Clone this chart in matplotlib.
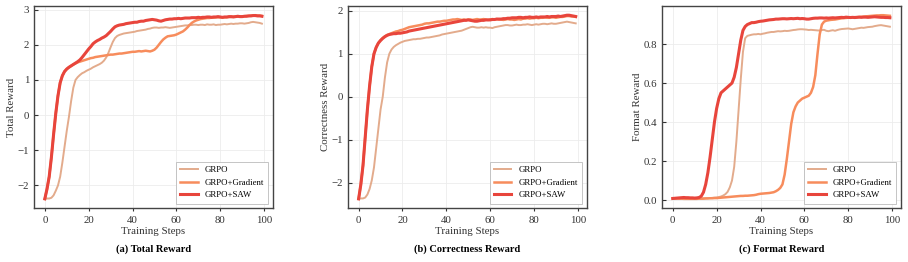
import numpy as np
import matplotlib
matplotlib.use("Agg")
import matplotlib.pyplot as plt

plt.rcParams['font.family'] = ['Liberation Serif', 'DejaVu Serif']

steps = np.arange(100)
labels = ["GRPO", "GRPO+Gradient", "GRPO+SAW"]

# (a) total reward
total_grpo = [
    -2.38, -2.37, -2.37, -2.35, -2.28, -2.15, -2.00, -1.75, -1.35, -0.90,
    -0.45, -0.05, 0.40, 0.78, 1.00, 1.08, 1.14, 1.19, 1.22, 1.26,
    1.29, 1.32, 1.36, 1.39, 1.42, 1.45, 1.49, 1.55, 1.64, 1.77,
    1.93, 2.08, 2.19, 2.25, 2.28, 2.30, 2.32, 2.33, 2.34, 2.35,
    2.36, 2.37, 2.39, 2.40, 2.41, 2.42, 2.43, 2.45, 2.46, 2.48,
    2.49, 2.49, 2.48, 2.49, 2.49, 2.50, 2.49, 2.48, 2.49, 2.50,
    2.51, 2.52, 2.53, 2.54, 2.55, 2.55, 2.56, 2.56, 2.57, 2.57,
    2.56, 2.57, 2.57, 2.56, 2.58, 2.57, 2.57, 2.58, 2.56, 2.57,
    2.57, 2.58, 2.59, 2.58, 2.59, 2.60, 2.59, 2.60, 2.60, 2.61,
    2.61, 2.60, 2.61, 2.62, 2.64, 2.65, 2.64, 2.63, 2.62, 2.60,
]
total_grad = [
    -2.38, -2.10, -1.75, -1.20, -0.55, 0.05, 0.55, 0.92, 1.12, 1.24,
    1.31, 1.36, 1.40, 1.44, 1.47, 1.50, 1.52, 1.54, 1.56, 1.58,
    1.60, 1.62, 1.63, 1.65, 1.66, 1.67, 1.68, 1.69, 1.70, 1.71,
    1.72, 1.72, 1.73, 1.74, 1.75, 1.75, 1.76, 1.77, 1.78, 1.79,
    1.80, 1.80, 1.81, 1.82, 1.81, 1.82, 1.83, 1.82, 1.81, 1.83,
    1.86, 1.92, 2.00, 2.08, 2.15, 2.20, 2.24, 2.25, 2.26, 2.27,
    2.29, 2.32, 2.35, 2.38, 2.43, 2.49, 2.56, 2.62, 2.66, 2.69,
    2.71, 2.73, 2.74, 2.75, 2.76, 2.76, 2.77, 2.77, 2.78, 2.78,
    2.78, 2.77, 2.78, 2.78, 2.79, 2.79, 2.80, 2.80, 2.80, 2.81,
    2.81, 2.81, 2.82, 2.82, 2.83, 2.83, 2.84, 2.83, 2.83, 2.82,
]
total_saw = [
    -2.38, -2.10, -1.75, -1.20, -0.55, 0.05, 0.55, 0.92, 1.12, 1.24,
    1.31, 1.36, 1.40, 1.44, 1.48, 1.52, 1.57, 1.64, 1.72, 1.80,
    1.88, 1.95, 2.03, 2.08, 2.12, 2.15, 2.19, 2.22, 2.26, 2.32,
    2.38, 2.45, 2.51, 2.54, 2.56, 2.57, 2.58, 2.60, 2.61, 2.62,
    2.63, 2.64, 2.64, 2.66, 2.67, 2.67, 2.69, 2.70, 2.71, 2.72,
    2.71, 2.70, 2.68, 2.67, 2.69, 2.71, 2.72, 2.73, 2.73, 2.74,
    2.74, 2.75, 2.74, 2.75, 2.76, 2.76, 2.76, 2.77, 2.77, 2.77,
    2.78, 2.77, 2.78, 2.78, 2.79, 2.79, 2.78, 2.79, 2.79, 2.80,
    2.79, 2.78, 2.79, 2.79, 2.80, 2.80, 2.79, 2.80, 2.81, 2.80,
    2.80, 2.81, 2.81, 2.82, 2.82, 2.83, 2.83, 2.82, 2.82, 2.81,
]

# (b) correctness reward
corr_grpo = [
    -2.38, -2.37, -2.37, -2.35, -2.28, -2.15, -1.95, -1.65, -1.20, -0.75,
    -0.30, 0.00, 0.45, 0.80, 1.00, 1.10, 1.16, 1.20, 1.23, 1.26,
    1.28, 1.30, 1.31, 1.32, 1.33, 1.34, 1.34, 1.35, 1.35, 1.36,
    1.37, 1.38, 1.38, 1.39, 1.40, 1.41, 1.42, 1.43, 1.45, 1.46,
    1.47, 1.48, 1.49, 1.50, 1.51, 1.52, 1.53, 1.54, 1.56, 1.58,
    1.60, 1.62, 1.63, 1.62, 1.61, 1.61, 1.62, 1.61, 1.62, 1.61,
    1.61, 1.60, 1.62, 1.63, 1.64, 1.65, 1.66, 1.67, 1.67, 1.66,
    1.66, 1.67, 1.68, 1.67, 1.67, 1.68, 1.68, 1.69, 1.68, 1.67,
    1.68, 1.69, 1.68, 1.69, 1.70, 1.70, 1.69, 1.70, 1.71, 1.70,
    1.70, 1.71, 1.72, 1.73, 1.74, 1.75, 1.74, 1.73, 1.72, 1.71,
]
corr_grad = [
    -2.38, -2.05, -1.60, -0.95, -0.30, 0.25, 0.70, 1.00, 1.15, 1.25,
    1.32, 1.37, 1.41, 1.44, 1.46, 1.48, 1.50, 1.52, 1.53, 1.55,
    1.56, 1.58, 1.60, 1.62, 1.63, 1.64, 1.65, 1.66, 1.67, 1.68,
    1.70, 1.71, 1.71, 1.72, 1.73, 1.74, 1.75, 1.75, 1.76, 1.77,
    1.77, 1.78, 1.79, 1.80, 1.80, 1.81, 1.80, 1.79, 1.80, 1.79,
    1.80, 1.80, 1.79, 1.80, 1.81, 1.80, 1.80, 1.81, 1.80, 1.79,
    1.80, 1.81, 1.80, 1.81, 1.80, 1.80, 1.79, 1.80, 1.81, 1.80,
    1.80, 1.79, 1.80, 1.81, 1.80, 1.82, 1.82, 1.83, 1.82, 1.83,
    1.83, 1.84, 1.83, 1.84, 1.84, 1.85, 1.84, 1.84, 1.85, 1.85,
    1.84, 1.85, 1.86, 1.86, 1.87, 1.88, 1.88, 1.87, 1.87, 1.86,
]
corr_saw = [
    -2.38, -2.05, -1.60, -0.95, -0.30, 0.25, 0.70, 1.00, 1.15, 1.25,
    1.31, 1.36, 1.40, 1.43, 1.45, 1.46, 1.47, 1.47, 1.48, 1.48,
    1.49, 1.50, 1.51, 1.53, 1.54, 1.55, 1.56, 1.57, 1.58, 1.59,
    1.60, 1.61, 1.62, 1.63, 1.64, 1.65, 1.66, 1.67, 1.68, 1.69,
    1.70, 1.71, 1.72, 1.73, 1.74, 1.75, 1.76, 1.77, 1.78, 1.78,
    1.79, 1.78, 1.77, 1.76, 1.76, 1.77, 1.78, 1.78, 1.79, 1.79,
    1.79, 1.80, 1.80, 1.81, 1.81, 1.81, 1.82, 1.82, 1.83, 1.83,
    1.84, 1.84, 1.84, 1.85, 1.85, 1.84, 1.85, 1.85, 1.86, 1.85,
    1.85, 1.86, 1.85, 1.86, 1.86, 1.86, 1.87, 1.86, 1.87, 1.87,
    1.87, 1.88, 1.87, 1.88, 1.89, 1.90, 1.90, 1.89, 1.88, 1.87,
]

# (c) format reward
fmt_grpo = [
    0.008, 0.008, 0.009, 0.009, 0.010, 0.010, 0.010, 0.010, 0.009, 0.009,
    0.008, 0.008, 0.008, 0.008, 0.009, 0.009, 0.010, 0.010, 0.011, 0.012,
    0.013, 0.015, 0.018, 0.023, 0.030, 0.042, 0.065, 0.100, 0.170, 0.300,
    0.460, 0.620, 0.760, 0.830, 0.842, 0.845, 0.848, 0.850, 0.850, 0.852,
    0.850, 0.853, 0.855, 0.858, 0.860, 0.862, 0.862, 0.864, 0.866, 0.865,
    0.866, 0.868, 0.867, 0.868, 0.870, 0.872, 0.873, 0.875, 0.876, 0.876,
    0.875, 0.874, 0.872, 0.873, 0.872, 0.871, 0.870, 0.869, 0.872, 0.873,
    0.868, 0.866, 0.869, 0.871, 0.868, 0.872, 0.875, 0.877, 0.878, 0.879,
    0.880, 0.878, 0.876, 0.878, 0.880, 0.882, 0.884, 0.883, 0.885, 0.887,
    0.888, 0.889, 0.892, 0.894, 0.896, 0.897, 0.895, 0.893, 0.891, 0.889,
]
fmt_grad = [
    0.008, 0.008, 0.008, 0.007, 0.007, 0.006, 0.006, 0.006, 0.006, 0.006,
    0.006, 0.006, 0.007, 0.007, 0.007, 0.008, 0.008, 0.009, 0.009, 0.010,
    0.010, 0.011, 0.012, 0.013, 0.014, 0.015, 0.016, 0.017, 0.018, 0.019,
    0.020, 0.021, 0.021, 0.022, 0.022, 0.023, 0.024, 0.025, 0.027, 0.030,
    0.032, 0.033, 0.034, 0.035, 0.036, 0.038, 0.040, 0.045, 0.052, 0.062,
    0.080, 0.130, 0.210, 0.300, 0.390, 0.450, 0.480, 0.500, 0.510, 0.520,
    0.525, 0.530, 0.535, 0.550, 0.580, 0.640, 0.750, 0.850, 0.900, 0.915,
    0.920, 0.922, 0.924, 0.925, 0.926, 0.928, 0.930, 0.932, 0.933, 0.934,
    0.935, 0.936, 0.937, 0.938, 0.938, 0.939, 0.940, 0.941, 0.942, 0.943,
    0.944, 0.945, 0.946, 0.947, 0.947, 0.948, 0.948, 0.947, 0.946, 0.945,
]
fmt_saw = [
    0.008, 0.009, 0.010, 0.011, 0.012, 0.013, 0.012, 0.012, 0.011, 0.011,
    0.010, 0.011, 0.013, 0.020, 0.040, 0.080, 0.140, 0.220, 0.310, 0.400,
    0.470, 0.520, 0.550, 0.560, 0.570, 0.580, 0.590, 0.600, 0.630, 0.680,
    0.750, 0.820, 0.870, 0.890, 0.900, 0.905, 0.910, 0.910, 0.912, 0.915,
    0.917, 0.918, 0.920, 0.922, 0.924, 0.925, 0.926, 0.928, 0.928, 0.929,
    0.930, 0.930, 0.929, 0.930, 0.931, 0.930, 0.931, 0.932, 0.930, 0.931,
    0.930, 0.928, 0.928, 0.930, 0.932, 0.933, 0.933, 0.934, 0.934, 0.933,
    0.934, 0.933, 0.934, 0.935, 0.934, 0.935, 0.936, 0.937, 0.936, 0.938,
    0.937, 0.936, 0.937, 0.936, 0.937, 0.938, 0.937, 0.938, 0.938, 0.937,
    0.938, 0.939, 0.940, 0.939, 0.938, 0.937, 0.937, 0.936, 0.936, 0.935,
]

panels = [
    ("Total Reward", "(a) Total Reward", [total_grpo, total_grad, total_saw], [-2, -1, 0, 1, 2, 3], "{:.0f}"),
    ("Correctness Reward", "(b) Correctness Reward", [corr_grpo, corr_grad, corr_saw], [-2, -1, 0, 1, 2], "{:.0f}"),
    ("Format Reward", "(c) Format Reward", [fmt_grpo, fmt_grad, fmt_saw], [0.0, 0.2, 0.4, 0.6, 0.8], "{:.1f}"),
]
colors = ["#e3ab8c", "#f78c5c", "#e8453c"]
widths = [1.4, 1.8, 2.2]
lefts = [0.0374, 0.383, 0.729]

fig = plt.figure(figsize=(9.08, 2.62), dpi=100)
for i, (ylab, title, series, yticks, fmt) in enumerate(panels):
    ax = fig.add_axes([lefts[i], 0.206, 0.263, 0.771])
    for s, c, lw, lab in zip(series, colors, widths, labels):
        ax.plot(steps, s, color=c, lw=lw, label=lab)
    ax.set_xticks([0, 20, 40, 60, 80, 100])
    ax.set_yticks(yticks)
    ax.set_yticklabels([fmt.format(v).replace("-", "\u2212") for v in yticks])
    ax.grid(True, color="#ececec", lw=0.6)
    ax.set_axisbelow(True)
    ax.tick_params(axis="y", direction="in", length=3, labelsize=7.8, color="#333333",
                   labelcolor="#333333")
    ax.tick_params(axis="x", direction="out", length=2, labelsize=7.8, color="#333333",
                   labelcolor="#333333")
    for sp in ax.spines.values():
        sp.set_color("#444444")
        sp.set_linewidth(1.0)
    ax.set_xlabel("Training Steps", fontsize=7.8, color="#333333", labelpad=2)
    ax.set_ylabel(ylab, fontsize=7.8, color="#333333", labelpad=1)
    leg = ax.legend(loc="lower right", fontsize=6.3, fancybox=False, framealpha=1,
                    edgecolor="#bbbbbb", handlelength=2.0, borderpad=0.5, labelspacing=0.5)
    leg.get_frame().set_linewidth(0.6)
    fig.text(lefts[i] + 0.263 / 2, 0.05, title, ha="center", va="center",
             fontsize=7.5, fontweight="bold")

fig.savefig("out.png", dpi=100)
